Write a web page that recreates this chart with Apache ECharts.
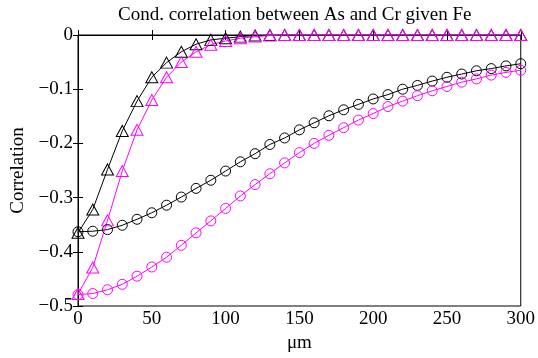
<!DOCTYPE html>
<html><head><meta charset="utf-8">
<script src="https://cdn.jsdelivr.net/npm/echarts@6/dist/echarts.min.js"></script>
<style>html,body{margin:0;padding:0;background:#fff}#c{width:538px;height:358px}</style>
</head><body><div id="c"></div>
<script>
const xVals = [0,10,20,30,40,50,60,70,80,90,100,110,120,130,140,150,160,170,180,190,200,210,220,230,240,250,260,270,280,290,300];
const blackTri = [-0.365,-0.322,-0.248,-0.177,-0.122,-0.078,-0.051,-0.031,-0.017,-0.009,-0.006,-0.003,-0.001,0,0,0,0,0,0,0,0,0,0,0,0,0,0,0,0,0,0];
const magentaTri = [-0.478,-0.429,-0.342,-0.251,-0.175,-0.120,-0.078,-0.050,-0.031,-0.018,-0.011,-0.006,-0.003,-0.001,0,0,0,0,0,0,0,0,0,0,0,0,0,0,0,0,0];
const blackCirc = [-0.363,-0.362,-0.359,-0.351,-0.340,-0.328,-0.314,-0.299,-0.283,-0.268,-0.251,-0.234,-0.219,-0.202,-0.190,-0.175,-0.162,-0.149,-0.138,-0.128,-0.118,-0.110,-0.100,-0.093,-0.085,-0.078,-0.072,-0.066,-0.062,-0.057,-0.053];
const magentaCirc = [-0.479,-0.477,-0.470,-0.460,-0.445,-0.428,-0.410,-0.388,-0.365,-0.343,-0.320,-0.297,-0.276,-0.256,-0.236,-0.217,-0.200,-0.185,-0.171,-0.157,-0.145,-0.132,-0.122,-0.112,-0.103,-0.095,-0.087,-0.081,-0.074,-0.069,-0.065];
const xTicks = [0,50,100,150,200,250,300];
const yTicks = [0,-0.1,-0.2,-0.3,-0.4,-0.5];
const titleText = 'Cond. correlation between As and Cr given Fe';

const font = 'Liberation Serif';
const fs = 19;
const chart = echarts.init(document.getElementById('c'), null, {renderer:'canvas'});
const pair = arr => arr.map((v,i)=>[xVals[i], v]);
function mk(name, data, color, symbol, size){
  return {name, type:'line', data:pair(data), xAxisIndex:0, yAxisIndex:0,
    symbol, symbolSize:size, showAllSymbol:true,
    lineStyle:{color, width:1}, itemStyle:{color:'rgba(0,0,0,0)', borderColor:color, borderWidth:1},
    emphasis:{disabled:true}, animation:false, z:2};
}
const tri = 'path://M0,-10L8.66,5L-8.66,5Z';
const axisCommon = {
  axisLine:{show:true, lineStyle:{color:'#000', width:1}},
  axisTick:{show:true, inside:true, length:5, lineStyle:{color:'#000'}},
  splitLine:{show:false}
};
chart.setOption({
  animation:false,
  title:{text:titleText, left:113, top:1, textStyle:{fontFamily:font, fontSize:fs, fontWeight:'normal', color:'#000'}},
  grid:{left:78, right:15, top:35, bottom:52, show:true, borderColor:'#000', borderWidth:1},
  xAxis:[
    Object.assign({type:'value', min:0, max:300, interval:50, position:'bottom',
      name:'μm', nameLocation:'middle', nameGap:27,
      nameTextStyle:{fontFamily:font, fontSize:fs, color:'#000'},
      axisLabel:{fontFamily:font, fontSize:fs, color:'#000', margin:4,
        customValues:xTicks, formatter:v=>String(v)}}, axisCommon),
    Object.assign({type:'value', min:0, max:300, interval:50, position:'top', axisLabel:{show:false}}, axisCommon)
  ],
  yAxis:[
    Object.assign({type:'value', min:-0.5, max:0, interval:0.1, position:'left',
      name:'Correlation', nameLocation:'middle', nameGap:47,
      nameTextStyle:{fontFamily:font, fontSize:fs, color:'#000'},
      axisLabel:{fontFamily:font, fontSize:fs, color:'#000', margin:5,
        customValues:yTicks, formatter:v=> Math.abs(v)<1e-9 ? '0' : '\u2212' + Math.abs(v).toFixed(1)}}, axisCommon),
    Object.assign({type:'value', min:-0.5, max:0, interval:0.1, position:'right', axisLabel:{show:false}}, axisCommon)
  ],
  series:[
    mk('bt', blackTri, '#000', tri, [12,11]),
    mk('bc', blackCirc, '#000', 'circle', 10),
    mk('mt', magentaTri, '#ff00ff', tri, [12,11]),
    mk('mc', magentaCirc, '#ff00ff', 'circle', 10)
  ]
});
</script></body></html>
